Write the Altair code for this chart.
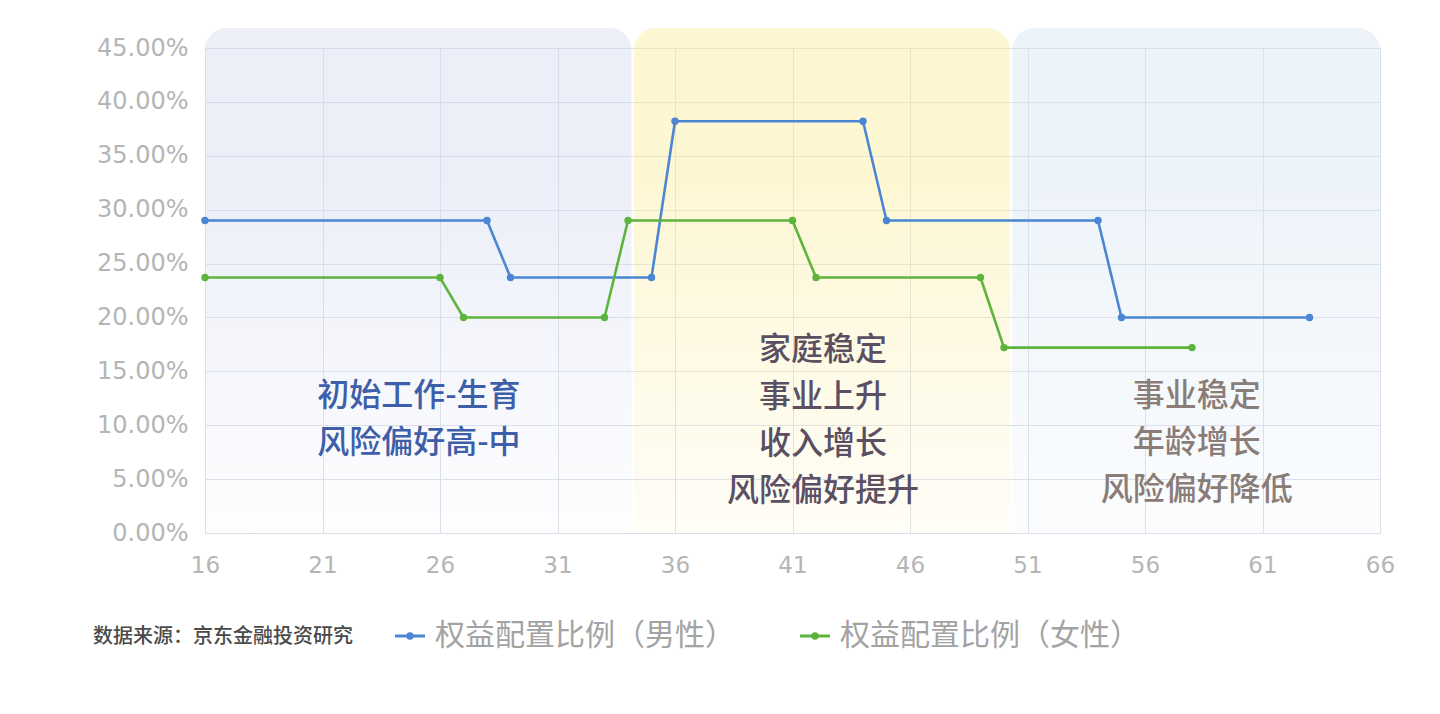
import altair as alt
import pandas as pd

# ---- data ----
AGE_M = [16, 28, 29, 35, 36, 44, 45, 54, 55, 63]
VAL_M = [29.0, 29.0, 23.7, 23.7, 38.2, 38.2, 29.0, 29.0, 20.0, 20.0]
AGE_F = [16, 26, 27, 33, 34, 41, 42, 49, 50, 58]
VAL_F = [23.7, 23.7, 20.0, 20.0, 29.0, 29.0, 23.7, 23.7, 17.2, 17.2]
SERIES = ["权益配置比例（男性）", "权益配置比例（女性）"]
COLORS = ["#4a86d3", "#5db43c"]

BAND_START = [16, 34.25, 50.35]
BAND_END = [34.15, 50.25, 66]
BAND_TOP = ["rgba(210,216,239,0.42)", "rgba(251,237,159,0.45)", "rgba(210,226,240,0.40)"]
BAND_BOTTOM = ["rgba(210,216,239,0.03)", "rgba(251,237,159,0.08)", "rgba(210,226,240,0.08)"]

ANNOT_LINES = [["初始工作-生育", "风险偏好高-中"],
               ["家庭稳定", "事业上升", "收入增长", "风险偏好提升"],
               ["事业稳定", "年龄增长", "风险偏好降低"]]
ANNOT_X = [25.1, 42.3, 58.2]
ANNOT_FIRST_Y = [12.7, 17.0, 12.7]
ANNOT_COLORS = ["#3d5ea8", "#5b5063", "#8a7d78"]
SOURCE = "数据来源：京东金融投资研究"

X_TICKS = list(range(16, 67, 5))
Y_TICKS = list(range(0, 46, 5))

W, H = 1175, 485
PX_PER_PCT = H / 45.0
LINE_GAP = 47 / PX_PER_PCT

xscale = alt.Scale(domain=[16, 66], nice=False, zero=False)
yscale = alt.Scale(domain=[0, 45], nice=False)

xaxis = alt.Axis(values=X_TICKS, grid=True, domain=False, ticks=False, title=None,
                 labelFlush=False,
                 labelFont="DejaVu Sans", labelFontSize=23, labelColor="#b5b5b5",
                 labelPadding=21, gridColor="#dcdfea", gridWidth=1)
yaxis = alt.Axis(values=Y_TICKS, grid=True, domain=False, ticks=False, title=None,
                 labelFlush=False,
                 labelExpr="format(datum.value/100, '.2%')",
                 labelFont="DejaVu Sans", labelFontSize=24, labelColor="#b5b5b5",
                 labelPadding=17, gridColor="#dcdfea", gridWidth=1)

layers = []

# background bands
for s, e, top, bot in zip(BAND_START, BAND_END, BAND_TOP, BAND_BOTTOM):
    bdf = pd.DataFrame({"x": [s], "x2": [e]})
    grad = alt.LinearGradient(gradient="linear", x1=0, x2=0, y1=0, y2=1,
                              stops=[alt.GradientStop(color=top, offset=0),
                                     alt.GradientStop(color=top, offset=0.3),
                                     alt.GradientStop(color=bot, offset=1)])
    layers.append(
        alt.Chart(bdf).mark_rect(color=grad, cornerRadiusTopLeft=22, cornerRadiusTopRight=22)
        .encode(x=alt.X("x:Q", scale=xscale, axis=xaxis), x2="x2:Q",
                y=alt.value(-20), y2=alt.value(H))
    )

# series
rows = []
for name, ages, vals in [(SERIES[0], AGE_M, VAL_M), (SERIES[1], AGE_F, VAL_F)]:
    for a, v in zip(ages, vals):
        rows.append({"series": name, "age": a, "val": v})
df = pd.DataFrame(rows)
color = alt.Color("series:N", scale=alt.Scale(domain=SERIES, range=COLORS), legend=None)

base = alt.Chart(df).encode(
    x=alt.X("age:Q", scale=xscale, axis=xaxis),
    y=alt.Y("val:Q", scale=yscale, axis=yaxis),
    color=color,
    order="age:Q",
)
layers.append(base.mark_line(strokeWidth=2.6))
layers.append(base.mark_point(filled=True, size=55, opacity=1))

# annotations
arows = []
for lines, x, y0, c in zip(ANNOT_LINES, ANNOT_X, ANNOT_FIRST_Y, ANNOT_COLORS):
    for i, t in enumerate(lines):
        arows.append({"t": t, "x": x, "y": y0 - i * LINE_GAP, "c": c})
adf = pd.DataFrame(arows)
layers.append(
    alt.Chart(adf).mark_text(font="Noto Sans CJK SC", fontSize=32, fontWeight=500,
                             baseline="middle", align="center")
    .encode(x=alt.X("x:Q", scale=xscale), y=alt.Y("y:Q", scale=yscale),
            text="t:N", color=alt.Color("c:N", scale=None))
)

# source note
layers.append(
    alt.Chart(pd.DataFrame({"t": [SOURCE]})).mark_text(
        font="Noto Sans CJK SC", fontSize=20, fontWeight=500, color="#4a4a4a",
        align="left", baseline="middle")
    .encode(text="t:N", x=alt.value(-112), y=alt.value(589))
)

# manual legend
LEG_X = [190, 595]
for name, c, lx in zip(SERIES, COLORS, LEG_X):
    ldf = pd.DataFrame({"t": [name]})
    layers.append(alt.Chart(ldf).mark_rule(color=c, strokeWidth=3)
                  .encode(x=alt.value(lx), x2=alt.value(lx + 30), y=alt.value(588)))
    layers.append(alt.Chart(ldf).mark_point(color=c, filled=True, size=55, opacity=1)
                  .encode(x=alt.value(lx + 15), y=alt.value(588)))
    layers.append(alt.Chart(ldf).mark_text(font="Noto Sans CJK SC", fontSize=30, color="#a3a3a3",
                                           align="left", baseline="middle")
                  .encode(text="t:N", x=alt.value(lx + 40), y=alt.value(588)))

chart = alt.layer(*layers).properties(
    width=W, height=H,
    autosize=alt.AutoSizeParams(type="none"),
    padding={"left": 197, "top": 40, "right": 40, "bottom": 170},
).configure_view(stroke=None).configure(background="white")

chart.save("out.html", embed_options={"renderer": "svg", "actions": False})
